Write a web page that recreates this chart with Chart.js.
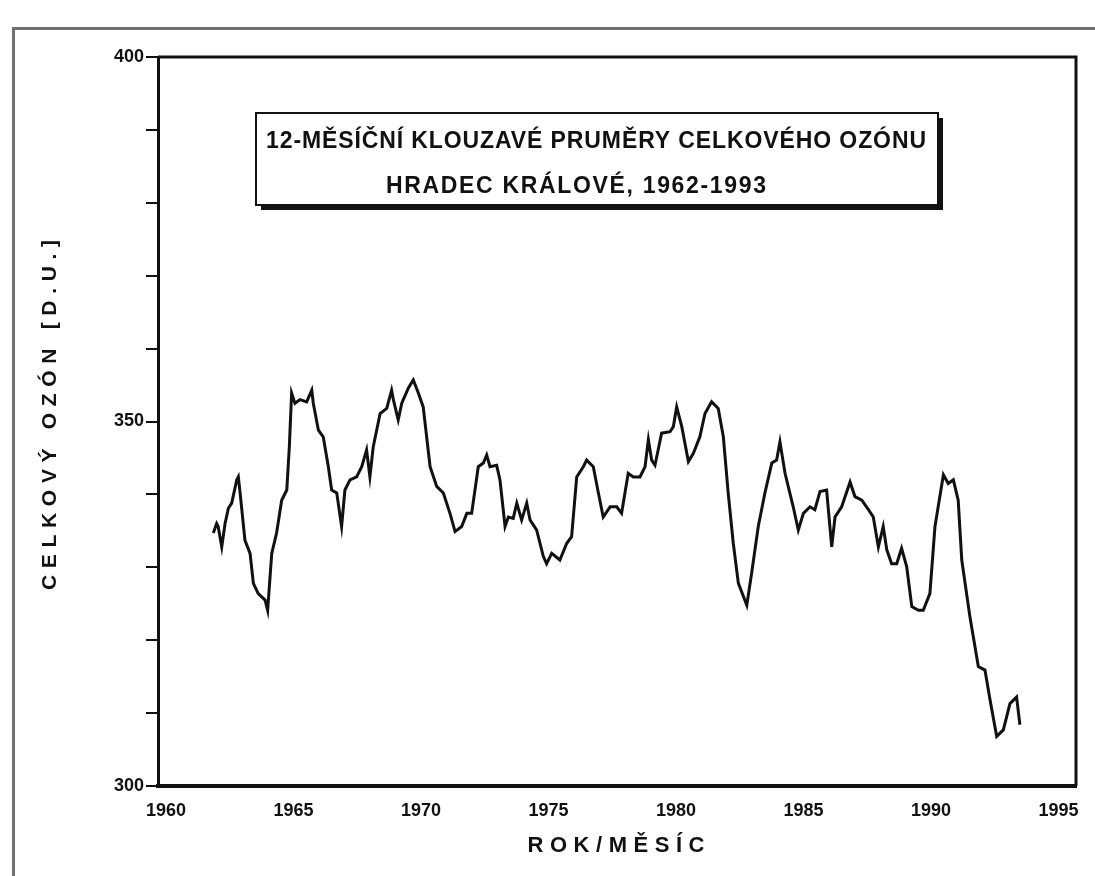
<!DOCTYPE html>
<html>
<head>
<meta charset="utf-8">
<script src="https://cdn.jsdelivr.net/npm/chart.js@4.4.1/dist/chart.umd.min.js"></script>
<style>
  html, body { margin: 0; padding: 0; background: #fff; }
  #wrap { position: relative; width: 1095px; height: 876px; overflow: hidden; }
  #frame { position: absolute; left: 12px; top: 27px; width: 1200px; height: 1000px;
           border-left: 3px solid #707070; border-top: 3px solid #707070; }
  #box { position: absolute; left: 0; top: 0; width: 1095px; height: 876px; }
</style>
</head>
<body>
<div id="wrap">
  <div id="frame"></div>
  <div id="box"><canvas id="ozone"></canvas></div>
</div>
<script>
// 12-month running means of total ozone, Hradec Králové
const years = [1962.17, 1962.30, 1962.36, 1962.50, 1962.63, 1962.76, 1962.89, 1963.09, 1963.15, 1963.22,
  1963.41, 1963.61, 1963.74, 1963.93, 1964.20, 1964.30, 1964.46, 1964.65, 1964.85, 1965.05,
  1965.15, 1965.24, 1965.37, 1965.57, 1965.83, 1966.03, 1966.09, 1966.29, 1966.48, 1966.68,
  1966.81, 1967.01, 1967.20, 1967.33, 1967.53, 1967.79, 1967.99, 1968.18, 1968.31, 1968.44,
  1968.71, 1968.97, 1969.16, 1969.23, 1969.42, 1969.56, 1969.82, 1970.01, 1970.21, 1970.40,
  1970.67, 1970.93, 1971.19, 1971.45, 1971.65, 1971.91, 1972.11, 1972.30, 1972.56, 1972.76,
  1972.89, 1973.02, 1973.28, 1973.41, 1973.61, 1973.74, 1973.93, 1974.07, 1974.26, 1974.46,
  1974.59, 1974.85, 1975.11, 1975.24, 1975.44, 1975.76, 1976.03, 1976.22, 1976.42, 1976.68,
  1976.81, 1977.07, 1977.27, 1977.46, 1977.73, 1977.99, 1978.18, 1978.44, 1978.64, 1978.90,
  1979.10, 1979.23, 1979.36, 1979.49, 1979.75, 1980.08, 1980.21, 1980.34, 1980.54, 1980.80,
  1980.99, 1981.25, 1981.45, 1981.71, 1981.97, 1982.17, 1982.36, 1982.56, 1982.76, 1983.09,
  1983.28, 1983.54, 1983.80, 1984.07, 1984.26, 1984.39, 1984.59, 1984.91, 1985.11, 1985.31,
  1985.57, 1985.76, 1985.96, 1986.22, 1986.42, 1986.55, 1986.81, 1987.14, 1987.33, 1987.60,
  1987.86, 1988.05, 1988.25, 1988.44, 1988.58, 1988.77, 1988.97, 1989.16, 1989.36, 1989.56,
  1989.82, 1990.01, 1990.27, 1990.47, 1990.80, 1990.99, 1991.19, 1991.38, 1991.52, 1991.84,
  1992.17, 1992.43, 1992.63, 1992.89, 1993.15, 1993.41, 1993.67, 1993.80];

const ozone = [334.7, 336.0, 335.6, 332.8, 336.0, 338.1, 338.8, 342.0, 342.4, 340.2,
  333.7, 331.9, 327.8, 326.4, 325.5, 324.1, 331.9, 334.7, 339.2, 340.6,
  346.5, 353.9, 352.5, 353.0, 352.7, 354.3, 352.5, 348.8, 347.9, 343.8,
  340.6, 340.2, 335.6, 340.6, 342.0, 342.4, 343.8, 346.1, 342.4, 346.5,
  351.1, 351.8, 354.3, 353.0, 350.2, 352.5, 354.6, 355.7, 353.9, 352.0,
  343.8, 341.1, 340.2, 337.4, 334.9, 335.6, 337.4, 337.4, 343.8, 344.3,
  345.4, 343.8, 344.0, 342.0, 335.6, 336.9, 336.7, 338.8, 336.5, 338.8,
  336.5, 335.1, 331.5, 330.5, 331.9, 331.0, 333.3, 334.2, 342.4, 343.8,
  344.7, 343.8, 340.2, 336.9, 338.3, 338.3, 337.4, 342.9, 342.4, 342.4,
  343.8, 347.5, 344.7, 344.0, 348.4, 348.6, 349.3, 352.0, 349.3, 344.5,
  345.6, 347.9, 351.1, 352.7, 351.8, 347.9, 340.2, 333.3, 327.8, 324.8,
  329.2, 335.6, 340.2, 344.3, 344.7, 347.2, 342.9, 338.3, 335.1, 337.4,
  338.3, 337.9, 340.4, 340.6, 332.8, 336.9, 338.3, 341.7, 339.7, 339.2,
  337.9, 336.9, 332.8, 335.6, 332.4, 330.5, 330.5, 332.6, 330.1, 324.6,
  324.1, 324.1, 326.4, 335.6, 342.7, 341.5, 342.0, 339.2, 331.0, 323.2,
  316.4, 315.9, 311.8, 306.8, 307.7, 311.3, 312.2, 308.4];

const xTickYears = [1960, 1965, 1970, 1975, 1980, 1985, 1990, 1995];
const yLabelValues = [300, 350, 400];

const titleLines = ['12-MĚSÍČNÍ KLOUZAVÉ PRUMĚRY CELKOVÉHO OZÓNU', 'HRADEC KRÁLOVÉ, 1962-1993'];
const xAxisTitle = 'ROK/MĚSÍC';
const yAxisTitle = 'CELKOVÝ OZÓN [D.U.]';

const ink = '#111';
const tickFont = { family: '"Liberation Sans", Arial, sans-serif', size: 18, weight: 'bold' };

// stretch a text so it covers the given width
function spacedText(ctx, text, x, y, width) {
  ctx.letterSpacing = '0px';
  const w = ctx.measureText(text).width;
  const n = [...text].length;
  ctx.letterSpacing = ((width - w) / (n - 1)) + 'px';
  ctx.textAlign = 'left';
  ctx.fillText(text, x - width / 2, y);
  ctx.letterSpacing = '0px';
}

const decorations = {
  id: 'decorations',
  afterDraw(chart) {
    const { ctx, chartArea: a } = chart;
    ctx.save();
    ctx.strokeStyle = ink;
    ctx.fillStyle = ink;

    // top and right edge of the plot frame
    ctx.lineWidth = 3;
    ctx.beginPath();
    ctx.moveTo(a.left, a.top);
    ctx.lineTo(a.right, a.top);
    ctx.lineTo(a.right, a.bottom);
    ctx.stroke();

    // title box with drop shadow
    const bx = 256, by = 113, bw = 682, bh = 92;
    ctx.fillRect(bx + 5, by + 5, bw, bh);
    ctx.fillStyle = '#fff';
    ctx.fillRect(bx, by, bw, bh);
    ctx.lineWidth = 2;
    ctx.strokeRect(bx, by, bw, bh);

    ctx.fillStyle = ink;
    ctx.textBaseline = 'middle';
    ctx.font = 'bold 23px "Liberation Sans Narrow", "Liberation Sans", sans-serif';
    spacedText(ctx, titleLines[0], 596, 142, 660);
    spacedText(ctx, titleLines[1], 576, 187, 380);

    // axis titles
    ctx.font = 'bold 22px "Liberation Sans", sans-serif';
    spacedText(ctx, xAxisTitle, 616, 846, 177);

    ctx.save();
    ctx.translate(50, 415);
    ctx.rotate(-Math.PI / 2);
    ctx.font = 'bold 21px "Liberation Sans", sans-serif';
    spacedText(ctx, yAxisTitle, 0, 0, 350);
    ctx.restore();

    ctx.restore();
  }
};

new Chart(document.getElementById('ozone'), {
  type: 'line',
  data: {
    datasets: [{
      data: years.map((x, i) => ({ x: x, y: ozone[i] })),
      borderColor: ink,
      borderWidth: 3,
      pointRadius: 0,
      tension: 0,
      fill: false
    }]
  },
  options: {
    responsive: true,
    maintainAspectRatio: false,
    animation: false,
    layout: { padding: { left: 0, top: 57, right: 19, bottom: 0 } },
    plugins: {
      legend: { display: false },
      tooltip: { enabled: false }
    },
    scales: {
      x: {
        type: 'linear',
        min: 1960,
        max: 1996,
        afterBuildTicks: (axis) => { axis.ticks = xTickYears.map(v => ({ value: v })); },
        afterFit: (axis) => { axis.height = 90; },
        grid: { display: false, drawTicks: false },
        border: { display: true, color: ink, width: 4 },
        ticks: {
          color: ink,
          font: tickFont,
          padding: 14,
          labelOffset: 8,
          maxRotation: 0,
          autoSkip: false,
          callback: (v) => String(v)
        }
      },
      y: {
        min: 300,
        max: 400,
        afterFit: (axis) => { axis.width = 158; },
        grid: {
          display: true,
          drawOnChartArea: false,
          drawTicks: true,
          tickLength: 12,
          color: ink,
          lineWidth: 2
        },
        border: { display: true, color: ink, width: 3 },
        ticks: {
          stepSize: 10,
          color: ink,
          font: tickFont,
          padding: 2,
          callback: (v) => yLabelValues.includes(v) ? String(v) : ''
        }
      }
    }
  },
  plugins: [decorations]
});
</script>
</body>
</html>
